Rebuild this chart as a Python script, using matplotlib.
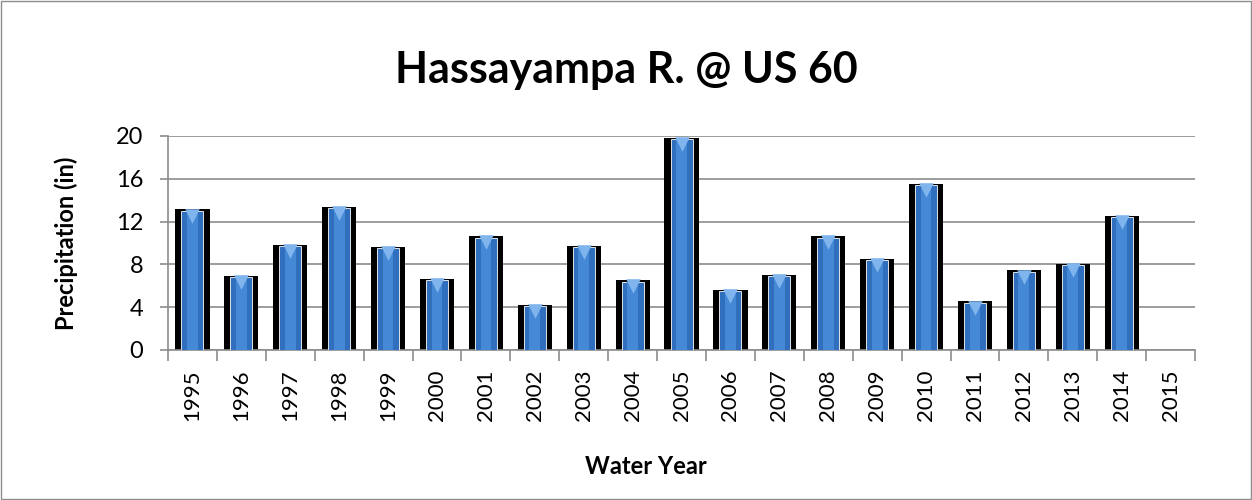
import numpy as np
import matplotlib.pyplot as plt
from matplotlib.patches import Rectangle

years = ['1995', '1996', '1997', '1998', '1999', '2000', '2001', '2002', '2003', '2004',
         '2005', '2006', '2007', '2008', '2009', '2010', '2011', '2012', '2013', '2014', '2015']
precip = [13.0, 6.8, 9.7, 13.25, 9.5, 6.5, 10.5, 4.1, 9.6, 6.4,
          19.7, 5.5, 6.9, 10.5, 8.4, 15.4, 4.4, 7.3, 7.9, 12.4, 0.0]

plt.rcParams['font.family'] = ['Lato', 'DejaVu Sans']

fig = plt.figure(figsize=(12.52, 5), dpi=100)
ax = fig.add_axes([0.1342, 0.30, 0.8203, 0.428])

x = np.arange(len(years))

# shadow / outline bars, then the blue bars on top
ax.bar(x, [p + 0.15 if p > 0 else 0 for p in precip], width=0.70, color='black', zorder=2)
ax.bar(x, precip, width=0.45, color='#2f6fbd', edgecolor='white', linewidth=0.6, zorder=3)
ax.bar(x, precip, width=0.22, color='#4588d6', zorder=3)
tops = [(xi, p) for xi, p in zip(x, precip) if p > 0]
ax.scatter([t[0] for t in tops], [t[1] - 0.45 for t in tops], marker='v', s=110,
           color='#7fb5ec', zorder=4, linewidths=0)

ax.set_xlim(-0.5, len(years) - 0.5)
ax.set_ylim(0, 20)
ax.set_yticks(range(0, 21, 4))
ax.yaxis.grid(True, color='#8c8c8c', linewidth=1.2)
ax.set_axisbelow(True)

ax.set_xticks(x)
ax.set_xticklabels(years, rotation=90, fontsize=16)
ax.set_xticks(np.arange(-0.5, len(years), 1), minor=True)
ax.tick_params(axis='x', which='major', length=0, pad=14)
ax.tick_params(axis='x', which='minor', length=8, color='#8c8c8c', width=1.2)
ax.tick_params(axis='y', labelsize=17, length=6, color='#8c8c8c', width=1.2, pad=12)

for s in ['top', 'right']:
    ax.spines[s].set_visible(False)
for s in ['left', 'bottom']:
    ax.spines[s].set_color('#8c8c8c')
    ax.spines[s].set_linewidth(1.2)

fig.text(0.5, 0.86, 'Hassayampa R. @ US 60', fontsize=31, fontweight='bold',
         ha='center', va='center')
ax.set_ylabel('Precipitation (in)', fontsize=17, fontweight='bold')
ax.yaxis.set_label_coords(-0.088, 0.5)
ax.set_xlabel('Water Year', fontsize=17, fontweight='bold')
ax.xaxis.set_label_coords(0.465, -0.49)

fig.patches.append(Rectangle((0.001, 0.002), 0.998, 0.996, transform=fig.transFigure,
                             fill=False, edgecolor='#8c8c8c', linewidth=1))

fig.savefig('out.png', dpi=100)
